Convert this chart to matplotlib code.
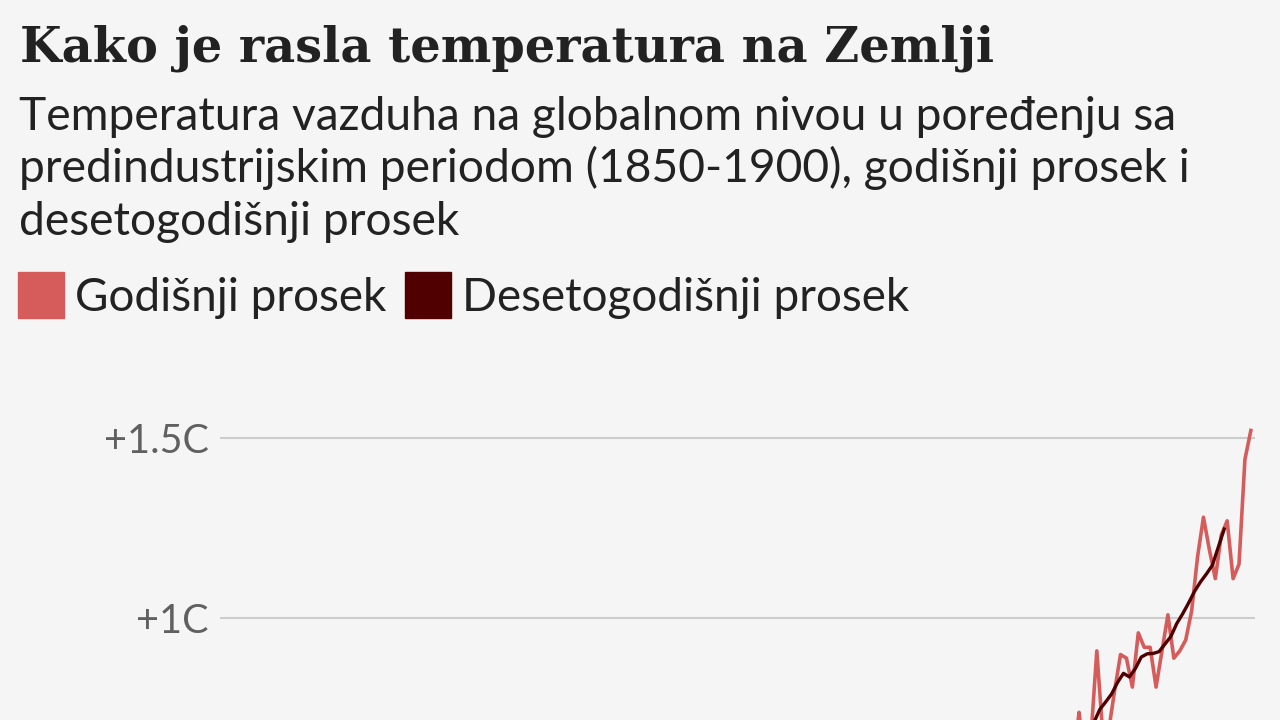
import numpy as np
import matplotlib
matplotlib.use("Agg")
import matplotlib.pyplot as plt
from matplotlib.patches import Rectangle

# annual global air temperature vs 1850-1900 (early years sit below the crop)
years = list(range(1980, 2025))
annual = [0.52, 0.58, 0.44, 0.60, 0.43, 0.42, 0.48, 0.63, 0.64, 0.56,
          0.70, 0.67, 0.50, 0.53, 0.60, 0.74, 0.60, 0.67, 0.91, 0.68,
          0.69, 0.80, 0.90, 0.89, 0.81, 0.96, 0.92, 0.92, 0.81, 0.91,
          1.01, 0.89, 0.91, 0.94, 1.02, 1.17, 1.28, 1.19, 1.11, 1.23,
          1.27, 1.11, 1.15, 1.44, 1.52]

# ten-year average, plotted at the middle of each decade window
decade_years = [y - 4.5 for y in range(2001, 2025)]
decade = [0.672, 0.712, 0.748, 0.769, 0.791, 0.823, 0.848, 0.838, 0.861, 0.893,
          0.902, 0.903, 0.908, 0.929, 0.950, 0.986, 1.013, 1.043, 1.075, 1.101,
          1.123, 1.147, 1.197, 1.247]

ytick_vals = [1.0, 1.5]
ytick_labels = ["+1C", "+1.5C"]

title = "Kako je rasla temperatura na Zemlji"
subtitle = ["Temperatura vazduha na globalnom nivou u poređenju sa",
            "predindustrijskim periodom (1850-1900), godišnji prosek i",
            "desetogodišnji prosek"]
legend_labels = ["Godišnji prosek", "Desetogodišnji prosek"]

BG = "#f5f5f5"
RED = "#d65c5c"
DARK = "#500000"
SANS = ["Lato", "DejaVu Sans"]
W, H = 1280, 720

fig = plt.figure(figsize=(12.8, 7.2), dpi=100, facecolor=BG)

# axes runs past the bottom of the canvas, like the cropped original
y_lo, y_hi = -0.5, 1.6
px_per_unit = 361.4
top_px = 437.7 - (y_hi - 1.5) * px_per_unit
bot_px = 437.7 + (1.5 - y_lo) * px_per_unit
left_px, right_px = 220, 1255
ax = fig.add_axes([left_px / W, 1 - bot_px / H,
                   (right_px - left_px) / W, (bot_px - top_px) / H])
ax.set_facecolor(BG)
ax.set_xlim(1850, 2024.7)
ax.set_ylim(y_lo, y_hi)

ax.plot(years, annual, color=RED, lw=2.6, zorder=3)
ax.plot(decade_years, decade, color=DARK, lw=2.4, zorder=4)

ax.set_yticks(ytick_vals)
ax.set_yticklabels(ytick_labels, family=SANS, fontsize=28.5, color="#606060")
ax.tick_params(axis="y", length=0, pad=8)
ax.set_xticks([])
ax.grid(axis="y", color="#cccccc", lw=1.5)
for s in ax.spines.values():
    s.set_visible(False)

fig.text(20 / W, 1 - 62 / H, title, family="DejaVu Serif", fontweight="bold",
         fontsize=34.5, color="#222222", va="baseline")
for i, line in enumerate(subtitle):
    fig.text(19 / W, 1 - (130 + 52.5 * i) / H, line, family=SANS,
             fontsize=33.2, color="#222222", va="baseline")

# legend: coloured squares + labels
sq_x = [18, 405]
txt_x = [75, 462]
for x0, tx, lab, col in zip(sq_x, txt_x, legend_labels, [RED, DARK]):
    fig.patches.append(Rectangle((x0 / W, 1 - 318 / H), 46 / W, 46 / H,
                                 transform=fig.transFigure, color=col))
    fig.text(tx / W, 1 - 311 / H, lab, family=SANS, fontsize=33,
             color="#222222", va="baseline")

fig.savefig("out.png", dpi=100, facecolor=BG)
